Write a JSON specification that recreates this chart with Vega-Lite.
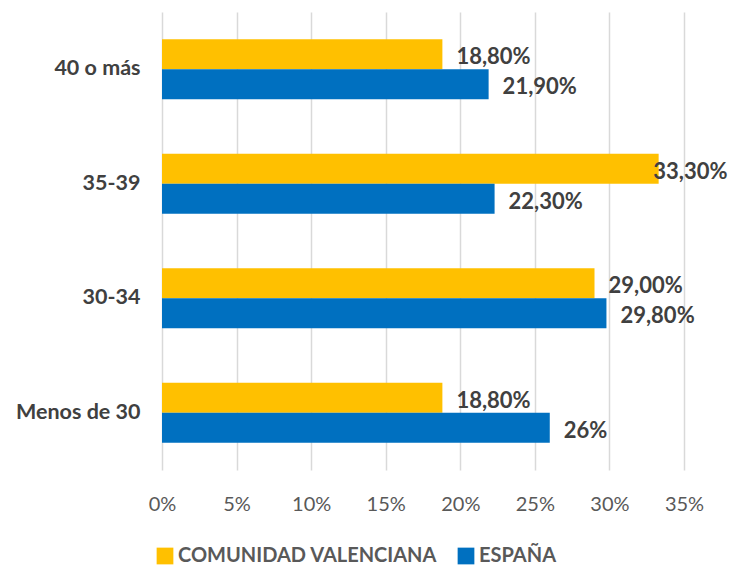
{
  "$schema": "https://vega.github.io/schema/vega-lite/v6.json",
  "width": 522,
  "height": 458,
  "autosize": {"type": "none"},
  "padding": {"left": 162, "top": 12, "right": 45, "bottom": 95},
  "background": "white",
  "data": {
    "values": [
      {"grupo": "40 o más", "serie": "COMUNIDAD VALENCIANA", "valor": 0.188, "etiqueta": "18,80%"},
      {"grupo": "40 o más", "serie": "ESPAÑA", "valor": 0.219, "etiqueta": "21,90%"},
      {"grupo": "35-39", "serie": "COMUNIDAD VALENCIANA", "valor": 0.333, "etiqueta": "33,30%"},
      {"grupo": "35-39", "serie": "ESPAÑA", "valor": 0.223, "etiqueta": "22,30%"},
      {"grupo": "30-34", "serie": "COMUNIDAD VALENCIANA", "valor": 0.29, "etiqueta": "29,00%"},
      {"grupo": "30-34", "serie": "ESPAÑA", "valor": 0.298, "etiqueta": "29,80%"},
      {"grupo": "Menos de 30", "serie": "COMUNIDAD VALENCIANA", "valor": 0.188, "etiqueta": "18,80%"},
      {"grupo": "Menos de 30", "serie": "ESPAÑA", "valor": 0.26, "etiqueta": "26%"}
    ]
  },
  "encoding": {
    "y": {
      "field": "grupo",
      "type": "nominal",
      "sort": ["40 o más", "35-39", "30-34", "Menos de 30"],
      "scale": {"paddingInner": 0.476, "paddingOuter": 0.238},
      "axis": {
        "title": null,
        "domain": false,
        "ticks": false,
        "labelFont": "Lato",
        "labelFontSize": 21.5,
        "labelFontWeight": "bold",
        "labelColor": "#404040",
        "labelPadding": 22
      }
    },
    "yOffset": {
      "field": "serie",
      "type": "nominal",
      "sort": ["COMUNIDAD VALENCIANA", "ESPAÑA"]
    }
  },
  "layer": [
    {
      "mark": {"type": "bar"},
      "encoding": {
        "x": {
          "field": "valor",
          "type": "quantitative",
          "scale": {"domain": [0, 0.35], "nice": false},
          "axis": {
            "title": null,
            "format": ".0%",
            "values": [0, 0.05, 0.1, 0.15, 0.2, 0.25, 0.3, 0.35],
            "domain": false,
            "ticks": false,
            "grid": true,
            "gridColor": "#d9d9d9",
            "gridWidth": 1.5,
            "labelFlush": false,
            "labelFont": "Lato",
            "labelFontSize": 20,
            "labelColor": "#595959",
            "labelPadding": 24
          }
        },
        "color": {
          "field": "serie",
          "type": "nominal",
          "sort": ["COMUNIDAD VALENCIANA", "ESPAÑA"],
          "scale": {"domain": ["COMUNIDAD VALENCIANA", "ESPAÑA"], "range": ["#FFC000", "#0070C0"]},
          "legend": {
            "title": null,
            "orient": "none",
            "direction": "horizontal",
            "legendX": -7,
            "legendY": 534,
            "symbolType": "square",
            "symbolSize": 280,
            "symbolStrokeWidth": 0,
            "labelFont": "Lato",
            "labelFontSize": 20,
            "labelFontWeight": "bold",
            "labelColor": "#595959",
            "labelLimit": 0,
            "labelOffset": 3,
            "columnPadding": 18
          }
        }
      }
    },
    {
      "transform": [{"calculate": "min(datum.valor, 0.32)", "as": "posEtiqueta"}],
      "mark": {
        "type": "text",
        "align": "left",
        "baseline": "middle",
        "dx": 14,
        "dy": 3,
        "font": "Lato",
        "fontSize": 22,
        "fontWeight": "bold",
        "color": "#404040"
      },
      "encoding": {
        "x": {"field": "posEtiqueta", "type": "quantitative"},
        "text": {"field": "etiqueta", "type": "nominal"}
      }
    }
  ],
  "config": {"view": {"stroke": null}}
}
